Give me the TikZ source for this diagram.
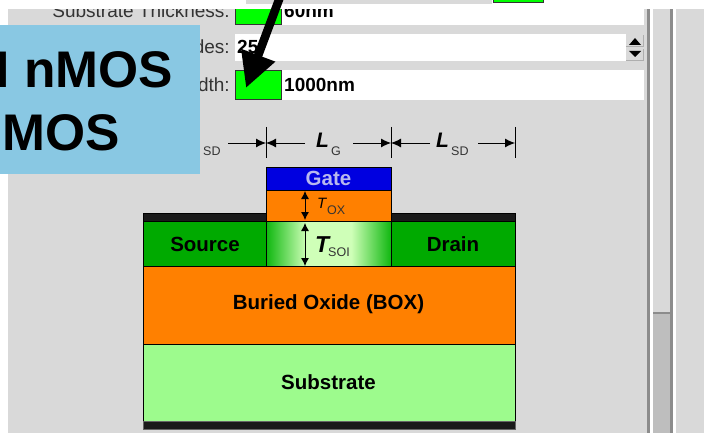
\documentclass[tikz,border=0pt]{standalone}
\usepackage{fontspec}
\setmainfont{Liberation Sans}
\usetikzlibrary{arrows.meta}
\definecolor{panel}{HTML}{D9D9D9}
\definecolor{bluebox}{HTML}{89C8E3}
\definecolor{oxide}{HTML}{FF8000}
\definecolor{sd}{HTML}{00AA00}
\definecolor{subs}{HTML}{9DFB8D}
\definecolor{chan}{HTML}{CFFFB8}
\definecolor{band}{HTML}{1A1A1A}
\definecolor{gatetxt}{HTML}{B8B8EE}
\definecolor{labeltxt}{HTML}{333333}
\definecolor{track}{HTML}{BEBEBE}
\definecolor{edgegray}{HTML}{8C8C8C}
\definecolor{chanedge}{HTML}{10B810}
\newcommand{\fs}[1]{\fontsize{#1}{#1}\selectfont}
\pgfdeclarehorizontalshading{chanshade}{100bp}{color(0bp)=(chanedge); color(25bp)=(chanedge); color(41bp)=(chan); color(59bp)=(chan); color(75bp)=(chanedge); color(100bp)=(chanedge)}
\tikzset{
  x=1pt,y=-1pt,
  layer/.style={draw=black,line width=0.9pt},
  fieldbox/.style={fill=white,draw=none},
  greenbox/.style={fill=green,draw=black!80,line width=1pt},
  formlabel/.style={inner sep=0,anchor=base east,text=labeltxt,font=\fs{19}},
  formvalue/.style={inner sep=0,anchor=base west,text=black,font=\bfseries\fs{19}},
  tick/.style={draw=black,line width=0.9pt},
  dimline/.style={draw=black,line width=0.9pt,-{Latex[length=10pt,width=9pt]}},
  vdim/.style={draw=black,line width=0.9pt,{Latex[length=8pt,width=8pt]}-{Latex[length=8pt,width=8pt]}},
  layertxt/.style={inner sep=0,font=\bfseries\fs{20.5},text=black},
  symb/.style={inner sep=0,anchor=base west,font=\bfseries\itshape\fs{21}},
  subs/.style={inner sep=0,anchor=base west,font=\fs{12.5},text=labeltxt},
  callout/.style={inner sep=0,font=\bfseries\fs{51.5},text=black},
}
\begin{document}
\begin{tikzpicture}
\useasboundingbox (0,0) rectangle (704,433);
\fill[white] (0,0) rectangle (704,433);
\fill[panel] (8,9) rectangle (648,433);
% form rows
\node[formlabel] (lthick) at (230,18) {Substrate Thickness:};
\fill[fieldbox] (281,5) rectangle (644,25);
\draw[greenbox] (235.5,5) rectangle (281,25);
\node[formvalue] (vthick) at (284,18) {60nm};
\fill[white] (0,0) rectangle (704,9);
\fill[panel] (246,0) rectangle (492,4);
\draw[greenbox] (493,-3) rectangle (543,3);
\node[formlabel] (lnodes) at (230,54) {Number of Nodes:};
\fill[fieldbox] (235,34) rectangle (626,61);
\node[formvalue] (vnodes) at (237,54) {25};
\fill[panel!80!black] (626,35) rectangle (644,47);
\fill[panel!80!black] (626,49) rectangle (644,61);
\fill[panel] (626,35) rectangle (643,46);
\fill[panel] (626,49) rectangle (643,60);
\fill[black] (629,45) -- (635,38) -- (641,45) -- cycle;
\fill[black] (629,51) -- (641,51) -- (635,57) -- cycle;
\node[formlabel] (lwidth) at (230,92) {Device Width:};
\fill[fieldbox] (281,70) rectangle (644,100);
\draw[greenbox] (235.5,70.5) rectangle (281,99.5);
\node[formvalue] (vwidth) at (284,92) {1000nm};
% scrollbars
\fill[edgegray] (647,9) rectangle (650,433);
\fill[white] (650,9) rectangle (653,433);
\fill[panel] (653,9) rectangle (670,313);
\fill[track] (653,313) rectangle (670,433);
\fill[edgegray] (670,9) rectangle (673,433);
\fill[edgegray] (653,311.5) rectangle (671,313.5);
\fill[white] (673,9) rectangle (676,433);
\fill[panel] (676,9) rectangle (704,433);
% callout arrow
\coordinate (atail) at (280,-3);
\coordinate (atip) at (246,88);
\draw[line width=8.5pt,-{Triangle[length=35pt 0 0,width'=34pt 0]}] (atail) -- (atip);
% dimension ticks
\coordinate (t1t) at (266,127); \coordinate (t1b) at (266,158);
\coordinate (t2t) at (391,127); \coordinate (t2b) at (391,158);
\coordinate (t3t) at (515,127); \coordinate (t3b) at (515,158);
\draw[tick] (t1t) -- (t1b); \draw[tick] (t2t) -- (t2b); \draw[tick] (t3t) -- (t3b);
\coordinate (d1) at (228,143); \coordinate (e1) at (266,143);
\coordinate (d2) at (305,143); \coordinate (d3) at (353,143); \coordinate (e2) at (391,143);
\coordinate (d4) at (430,143); \coordinate (d5) at (478,143); \coordinate (e3) at (515,143);
\draw[dimline] (d1) -- (e1);
\draw[dimline] (d2) -- (e1);
\draw[dimline] (d3) -- (e2);
\draw[dimline] (d4) -- (e2);
\draw[dimline] (d5) -- (e3);
\node[symb] (lg) at (316,148) {L};
\node[subs] (lgs) at (331,155) {G};
\node[symb] (lsd) at (436,148) {L};
\node[subs] (lsds) at (451,155) {SD};
\node[subs] (lsdl) at (203,155) {SD};
% layers
\fill[band,draw=black,line width=0.5pt] (143,213) rectangle (515,222);
\draw[layer,fill=blue!88!black] (266.5,167) rectangle (391,190);
\draw[layer,fill=oxide] (266.5,190) rectangle (391,221.5);
\draw[layer,fill=sd] (143,221.5) rectangle (266.5,266);
\draw[layer,fill=sd] (391,221.5) rectangle (515,266);
\shade[shading=chanshade] (266.5,221.5) rectangle (391,266);
\draw[layer] (266.5,221.5) rectangle (391,266);
\draw[layer,fill=oxide] (143,266) rectangle (515,344.5);
\draw[layer,fill=subs] (143,344.5) rectangle (515,421);
\fill[band,draw=black!60,line width=0.5pt] (143,421) rectangle (515,429);
\node[layertxt,text=gatetxt] (gate) at (328.5,178) {Gate};
\node[layertxt] (source) at (205,244) {Source};
\node[layertxt] (drain) at (453,244) {Drain};
\node[layertxt] (box) at (328.5,304) {Buried Oxide (BOX)};
\node[layertxt] (sub) at (328.5,382) {Substrate};
% thickness dims
\coordinate (ox1) at (305,191); \coordinate (ox2) at (305,220);
\coordinate (si1) at (305,223); \coordinate (si2) at (305,266);
\draw[vdim] (ox1) -- (ox2);
\draw[vdim] (si1) -- (si2);
\node[symb,font=\itshape\fs{15}] (tox) at (317,208) {T};
\node[subs] (toxs) at (327,214) {OX};
\node[symb,font=\bfseries\itshape\fs{23}] (tsoi) at (315,252) {T};
\node[subs] (tsois) at (328,256) {SOI};
% callout box
\fill[bluebox] (0,25) rectangle (200,174);
\begin{scope}
\clip (0,25) rectangle (200,174);
\node[callout,anchor=base east] (n1) at (173.5,88) {I nMOS};
\node[callout,anchor=base east] (n2) at (120,150) {MOS};
\end{scope}
\end{tikzpicture}
\end{document}
